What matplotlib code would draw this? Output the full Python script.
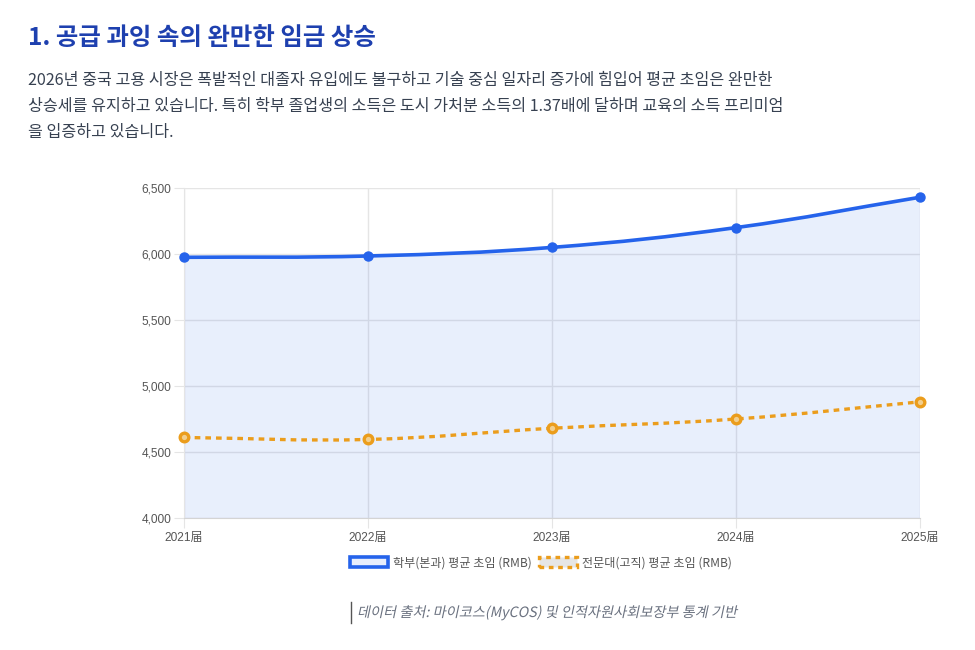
import numpy as np
import matplotlib
matplotlib.use("Agg")
import matplotlib.pyplot as plt
from matplotlib.path import Path
from matplotlib.patches import PathPatch, Patch
from matplotlib.lines import Line2D
from matplotlib.textpath import TextPath
from matplotlib.font_manager import FontProperties
from matplotlib.transforms import Affine2D

plt.rcParams['font.family'] = ['Noto Sans CJK KR', 'DejaVu Sans']

# 데이터
years = ['2021届', '2022届', '2023届', '2024届', '2025届']
bachelor = [5975, 5985, 6050, 6200, 6430]
junior = [4610, 4595, 4680, 4750, 4880]
labels = ['학부(본과) 평균 초임 (RMB)', '전문대(고직) 평균 초임 (RMB)']

title = '1. 공급 과잉 속의 완만한 임금 상승'
body = ['2026년 중국 고용 시장은 폭발적인 대졸자 유입에도 불구하고 기술 중심 일자리 증가에 힘입어 평균 초임은 완만한',
        '상승세를 유지하고 있습니다. 특히 학부 졸업생의 소득은 도시 가처분 소득의 1.37배에 달하며 교육의 소득 프리미엄',
        '을 입증하고 있습니다.']
source = '데이터 출처: 마이코스(MyCOS) 및 인적자원사회보장부 통계 기반'

BLUE = '#2563eb'
ORANGE = '#eb9d1c'
GRID = '#e5e5e5'


def smooth_path(ax, xs, ys, tension=0.4):
    # Chart.js 스타일 베지어 곡선 (픽셀 공간에서 제어점 계산)
    pts = ax.transData.transform(np.column_stack([xs, ys]))
    n = len(pts)
    verts = [pts[0]]
    codes = [Path.MOVETO]
    cps = []
    for i in range(n):
        prev = pts[max(i - 1, 0)]
        cur = pts[i]
        nxt = pts[min(i + 1, n - 1)]
        d01 = np.hypot(*(cur - prev))
        d12 = np.hypot(*(nxt - cur))
        tot = d01 + d12 if d01 + d12 > 0 else 1
        fa = tension * d01 / tot
        fb = tension * d12 / tot
        cps.append((cur - fa * (nxt - prev), cur + fb * (nxt - prev)))
    for i in range(n - 1):
        verts += [cps[i][1], cps[i + 1][0], pts[i + 1]]
        codes += [Path.CURVE4] * 3
    verts = ax.transData.inverted().transform(np.array(verts))
    return verts, codes


fig = plt.figure(figsize=(9.75, 6.5), dpi=100)
ax = fig.add_axes([184 / 975, 1 - 518 / 650, 736 / 975, 330 / 650])

x = np.arange(len(years))
ax.set_xlim(0, len(years) - 1)
ax.set_ylim(4000, 6500)

# 학부 곡선 + 채우기
verts, codes = smooth_path(ax, x, bachelor)
fill_verts = np.vstack([verts, [[x[-1], 4000], [x[0], 4000], verts[0]]])
fill_codes = codes + [Path.LINETO, Path.LINETO, Path.CLOSEPOLY]
ax.add_patch(PathPatch(Path(fill_verts, fill_codes), facecolor=BLUE, alpha=0.1,
                       edgecolor='none', zorder=1))
ax.add_patch(PathPatch(Path(verts, codes), facecolor='none', edgecolor=BLUE,
                       linewidth=2.6, zorder=3, capstyle='round'))
ax.plot(x, bachelor, linestyle='none', marker='o', markersize=6.5,
        markerfacecolor=BLUE, markeredgecolor=BLUE, zorder=4, clip_on=False)

# 전문대 곡선 (점선)
verts2, codes2 = smooth_path(ax, x, junior)
ax.add_patch(PathPatch(Path(verts2, codes2), facecolor='none', edgecolor=ORANGE,
                       linewidth=2.4, linestyle=(0, (1.7, 1.5)), zorder=3))
ax.plot(x, junior, linestyle='none', marker='o', markersize=6.2,
        markerfacecolor='#f2cf8e', markeredgecolor=ORANGE, markeredgewidth=2.4,
        zorder=4, clip_on=False)

# 축 스타일
ax.set_xticks(x)
ax.set_xticklabels(years)
ax.set_yticks([4000, 4500, 5000, 5500, 6000, 6500])
ax.set_yticklabels([f'{v:,}' for v in [4000, 4500, 5000, 5500, 6000, 6500]])
ax.grid(True, color=GRID, linewidth=1, zorder=0)
ax.set_axisbelow(True)
for s in ['top', 'right']:
    ax.spines[s].set_visible(False)
ax.spines['left'].set_color(GRID)
ax.spines['bottom'].set_color('#d4d4d4')
ax.tick_params(axis='both', length=7, color=GRID, labelsize=8.6, labelcolor='#555555')
ax.tick_params(axis='y', pad=2)
ax.tick_params(axis='x', pad=3)
for lab in ax.get_xticklabels() + ax.get_yticklabels():
    lab.set_family(['Liberation Sans', 'Noto Sans CJK KR'])

# 범례
handles = [Patch(facecolor='#e8eefc', edgecolor=BLUE, linewidth=2.6),
           Patch(facecolor='#e6e6e6', edgecolor=ORANGE, linewidth=2.4,
                 linestyle=(0, (1.4, 1.4)))]
fig.legend(handles, labels, loc='center', bbox_to_anchor=(541 / 975, 1 - 563 / 650),
           ncol=2, frameon=False, fontsize=8.7, handlelength=3.1, handleheight=0.9,
           columnspacing=0.6, handletextpad=0.45, labelcolor='#555555')

# 제목과 설명
fig.text(28 / 975, 1 - 38 / 650, title, fontsize=17.6, fontweight='bold',
         color='#1e40af', va='center', ha='left')
for i, line in enumerate(body):
    fig.text(28 / 975, 1 - (80 + 26.5 * i) / 650, line, fontsize=11.6,
             color='#374151', va='center', ha='left')

# 출처 (기울임꼴 흉내: 글자 경로에 기울기 적용)
tp = TextPath((0, 0), source, size=14.2, prop=FontProperties(family='Noto Sans CJK KR'))
skew = Affine2D().skew_deg(12, 0).translate(357, 650 - 617)
fig.add_artist(PathPatch(tp, transform=skew, facecolor='#6b7280', edgecolor='none'))
fig.add_artist(Line2D([351 / 975, 351 / 975], [1 - 602 / 650, 1 - 623 / 650],
                      color='#555555', linewidth=1, transform=fig.transFigure))

fig.savefig('out.png', dpi=100)
